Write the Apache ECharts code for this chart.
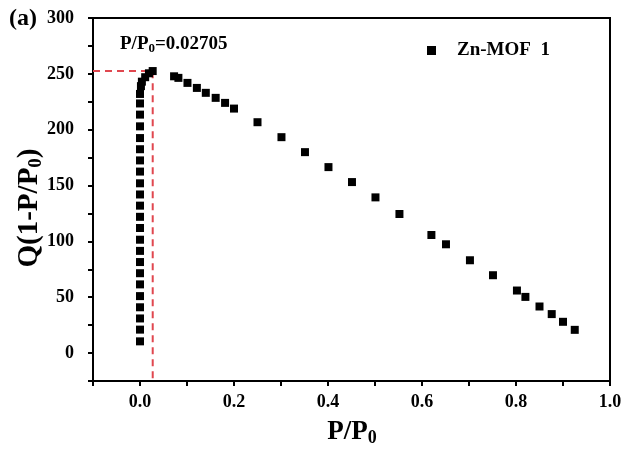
<!DOCTYPE html>
<html>
<head>
<meta charset="utf-8">
<script src="https://cdn.jsdelivr.net/npm/echarts@6/dist/echarts.min.js"></script>
<style>html,body{margin:0;padding:0;background:#fff}#c{width:623px;height:450px}</style>
</head>
<body>
<div id="c"></div>
<script>
// P/P0 values
const pressure = [
  0, 0, 0, 0, 0, 0, 0, 0, 0, 0, 0, 0, 0, 0, 0, 0, 0, 0, 0, 0, 0, 0, 0,
  0.002, 0.004, 0.011, 0.019, 0.027,
  0.0725, 0.0817, 0.101, 0.121, 0.140, 0.161, 0.181, 0.200, 0.250, 0.301,
  0.351, 0.401, 0.451, 0.501, 0.552, 0.620, 0.651, 0.702, 0.751, 0.802,
  0.820, 0.850, 0.876, 0.900, 0.925
];
// Q(1-P/P0) values
const rouquerol = [
  10.5, 21, 31, 41, 51, 61.5, 71.5, 81.5, 91.5, 101.5, 112, 122, 132, 142, 152, 162.5, 172.5, 182.5, 192.5, 203, 213.5, 223.5, 232,
  239, 243, 247, 250.5, 252.5,
  247.8, 246.4, 241.9, 237.4, 233.0, 228.5, 224.0, 218.9, 206.7, 193.3,
  179.9, 166.5, 153.1, 139.4, 124.5, 105.7, 97.4, 83.1, 69.7, 56.0,
  50.3, 41.7, 34.9, 28.0, 20.8
];
const seriesName = 'Zn-MOF  1';
const markerPP0 = 0.02705;
const markerQ = 252.5;
const xTicks = [0, 0.2, 0.4, 0.6, 0.8, 1.0];
const yTicks = [0, 50, 100, 150, 200, 250, 300];
const xRange = [-0.1, 1.0];
const yRange = [-25, 300];
const xStep = 0.1;
const yStep = 25;

const FONT = '"Liberation Serif", "Times New Roman", serif';
const pts = pressure.map((x, i) => [x, rouquerol[i]]);
const guide = [[xRange[0], markerQ], [markerPP0, markerQ], [markerPP0, yRange[0]]];
const isMajor = (v, arr) => arr.some(t => Math.abs(t - v) < 1e-6);

const titleRich = (big, small) => ({
  a: {fontFamily: FONT, fontWeight: 'bold', fontSize: big, fill: '#000'},
  s: {fontFamily: FONT, fontWeight: 'bold', fontSize: small, fill: '#000', padding: [Math.round(small * 0.7), 0, 0, 0]}
});

const chart = echarts.init(document.getElementById('c'), null, {renderer: 'canvas'});
chart.setOption({
  animation: false,
  backgroundColor: '#fff',
  grid: {left: 93, right: 13, top: 18, bottom: 69, show: true, borderColor: '#000', borderWidth: 2,
    containLabel: false, outerBoundsMode: 'none'},
  xAxis: [{
    type: 'value', min: xRange[0], max: xRange[1], interval: xStep, position: 'bottom',
    splitLine: {show: false},
    axisLine: {show: true, onZero: false, lineStyle: {color: '#000', width: 2}},
    axisTick: {show: true, length: 5, lineStyle: {color: '#000', width: 2}},
    axisLabel: {margin: 12, fontFamily: FONT, fontWeight: 'bold', fontSize: 18, color: '#000',
      showMinLabel: true, showMaxLabel: true, hideOverlap: false,
      formatter: v => isMajor(v, xTicks) ? v.toFixed(1) : ''}
  }],
  yAxis: [{
    type: 'value', min: yRange[0], max: yRange[1], interval: yStep, position: 'left',
    splitLine: {show: false},
    axisLine: {show: true, onZero: false, lineStyle: {color: '#000', width: 2}},
    axisTick: {show: true, length: 5, lineStyle: {color: '#000', width: 2}},
    axisLabel: {margin: 19, fontFamily: FONT, fontWeight: 'bold', fontSize: 18, color: '#000',
      hideOverlap: false,
      formatter: v => isMajor(v, yTicks) ? String(v) : ''}
  }],
  legend: {
    left: 422, top: 36, icon: 'rect', itemWidth: 9, itemHeight: 9,
    data: [seriesName],
    textStyle: {fontFamily: FONT, fontWeight: 'bold', fontSize: 19, color: '#000', padding: [0, 0, 0, 16]}
  },
  graphic: [
    {type: 'text', left: 9, top: 7, style: {text: '(a)', font: 'bold 24px ' + FONT, fill: '#000'}},
    {type: 'text', left: 120, top: 35, style: {
      text: '{a|P/P}{s|0}{a|=0.02705}',
      rich: titleRich(19, 13)
    }},
    {type: 'text', x: 352, y: 432, style: {
      text: '{a|P/P}{s|0}', align: 'center', verticalAlign: 'middle',
      rich: titleRich(27, 18)
    }},
    {type: 'text', x: 30, y: 208, rotation: Math.PI / 2, style: {
      text: '{a|Q(1-P/P}{s|0}{a|)}', align: 'center', verticalAlign: 'middle',
      rich: titleRich(29, 19)
    }}
  ],
  series: [
    {
      name: 'guide', type: 'line', data: guide, symbol: 'none', silent: true,
      lineStyle: {color: '#e0474f', width: 2, type: [7, 5]}, z: 1
    },
    {
      name: seriesName, type: 'scatter', data: pts, symbol: 'rect', symbolSize: 8,
      itemStyle: {color: '#000', opacity: 1}, z: 3
    }
  ]
});
</script>
</body>
</html>
